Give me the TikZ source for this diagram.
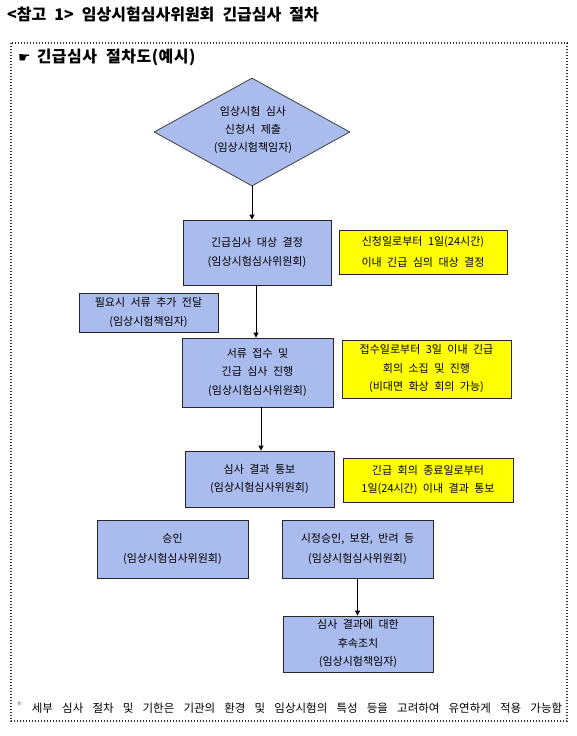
\documentclass[tikz,border=0pt]{standalone}
\usepackage{fontspec}
\setmainfont{Noto Sans CJK KR}[WordSpace=2.2]
\newfontfamily\dejavu{DejaVu Sans}
\usetikzlibrary{shapes.geometric,arrows.meta,shadows}
\definecolor{boxblue}{RGB}{170,188,238}
\definecolor{noteyellow}{RGB}{255,255,0}
\definecolor{framegray}{RGB}{50,50,50}
\definecolor{starcol}{RGB}{170,160,215}
\tikzset{
  base/.style={draw=black!85, line width=0.8pt, inner sep=0pt, align=center,
    font=\fontsize{11}{18.5}\selectfont,
    drop shadow={shadow xshift=1.2pt, shadow yshift=-1.2pt, fill=black!65, opacity=1}},
  bluebox/.style={base, fill=boxblue},
  yellowbox/.style={base, fill=noteyellow},
  flow/.style={line width=0.9pt, -{Triangle[length=5pt,width=5pt]}},
  plain/.style={inner sep=0pt, align=center, font=\fontsize{11}{18}\selectfont}
}
\begin{document}
\begin{tikzpicture}[x=1pt,y=-1pt]
\useasboundingbox (0,0) rectangle (576,736);
% title
\node[anchor=west, inner sep=0pt, font=\fontsize{16}{18}\bfseries] (title) at (7,14) {<참고 1> 임상시험심사위원회 긴급심사 절차};
% frame
\draw[framegray, line width=1.1pt, dash pattern=on 1.1pt off 1.9pt] (11,43) rectangle (567,721);
\node[anchor=west, inner sep=0pt, font=\fontsize{16}{17}\bfseries\addfontfeatures{LetterSpace=3}] (head) at (18,57) {{\dejavu\fontsize{14}{15}\selectfont ☛}\hspace{6pt}긴급심사 절차도(예시)};
% diamond
\node[diamond, draw=black!75, line width=0.8pt, fill=boxblue, inner sep=0pt,
  minimum width=196pt, minimum height=108pt] (d) at (252,132) {};
\node[plain] (dt) at (253,130) {임상시험 심사\\신청서 제출\\(임상시험책임자)};
% boxes
\node[bluebox, minimum width=148pt, minimum height=65pt] (b1) at (257,252.5) {긴급심사 대상 결정\\(임상시험심사위원회)};
\node[yellowbox, minimum width=168pt, minimum height=44pt] (y1) at (423,252) {신청일로부터 1일(24시간)\\[2pt]이내 긴급 심의 대상 결정};
\node[bluebox, minimum width=139pt, minimum height=39pt] (s1) at (148.5,312.5) {필요시 서류 추가 전달\\[1pt](임상시험책임자)};
\node[bluebox, minimum width=151pt, minimum height=69pt] (b2) at (257.5,372.5) {서류 접수 및\\긴급 심사 진행\\(임상시험심사위원회)};
\node[yellowbox, minimum width=169pt, minimum height=58pt] (y2) at (426.5,369) {접수일로부터 3일 이내 긴급\\회의 소집 및 진행\\(비대면 화상 회의 가능)};
\node[bluebox, minimum width=149pt, minimum height=56pt] (b3) at (259.5,479) {심사 결과 통보\\(임상시험심사위원회)};
\node[yellowbox, minimum width=170pt, minimum height=44pt] (y3) at (428,480) {긴급 회의 종료일로부터\\1일(24시간) 이내 결과 통보};
\node[bluebox, minimum width=151pt, minimum height=58pt] (b4) at (172.5,549) {승인\\[2pt](임상시험심사위원회)};
\node[bluebox, minimum width=151pt, minimum height=58pt] (b5) at (357.5,549) {시정승인, 보완, 반려 등\\[2pt](임상시험심사위원회)};
\node[bluebox, minimum width=150pt, minimum height=56pt] (b6) at (358,644) {심사 결과에 대한\\후속조치\\(임상시험책임자)};
% arrows
\draw[flow] (d.south) -- (d.south |- b1.north);
\draw[flow] ([xshift=-1pt]b1.south) -- ([xshift=-1pt]b1.south |- b2.north);
\draw[flow] ([xshift=3.5pt]b2.south) -- ([xshift=3.5pt]b2.south |- b3.north);
\draw[flow] (b5.south) -- (b5.south |- b6.north);
% footnote
\node[anchor=west, inner sep=0pt, font=\fontsize{11.5}{12}\selectfont] (fn) at (16,707) {\makebox[546pt][s]{\textcolor{starcol}{\fontsize{14}{14}\selectfont *} 세부 심사 절차 및 기한은 기관의 환경 및 임상시험의 특성 등을 고려하여 유연하게 적용 가능함}};
\end{tikzpicture}
\end{document}
